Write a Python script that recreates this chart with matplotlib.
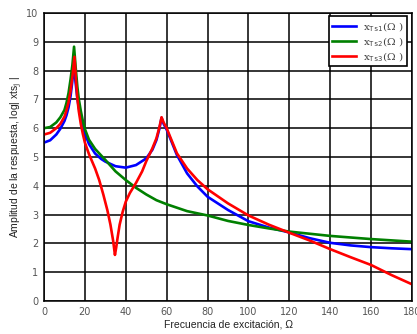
import matplotlib
matplotlib.use("Agg")
import matplotlib.pyplot as plt

# Series 1 (blue)
x1 = [0, 3, 6, 8, 10, 11, 12, 13, 13.8, 14.6, 15.4, 16.2, 17, 18, 19, 20, 22, 25, 28, 30, 35, 40, 45, 50, 53, 55, 56.5, 57.5, 58.5, 60, 62, 65, 70, 75, 80, 90, 100, 110, 120, 130, 140, 150, 160, 170, 180]
y1 = [5.50, 5.58, 5.78, 5.98, 6.25, 6.45, 6.72, 7.12, 7.6, 8.25, 7.62, 7.1, 6.72, 6.38, 6.05, 5.82, 5.45, 5.12, 4.93, 4.84, 4.68, 4.63, 4.72, 4.95, 5.25, 5.59, 6.0, 6.36, 6.15, 5.95, 5.6, 5.07, 4.43, 3.98, 3.62, 3.16, 2.77, 2.55, 2.38, 2.18, 2.02, 1.93, 1.87, 1.83, 1.80]

# Series 2 (green)
x2 = [0, 3, 6, 8, 10, 11, 12, 13, 13.9, 14.7, 15.5, 16.3, 17, 18, 19, 20, 22, 25, 28, 30, 35, 40, 45, 50, 55, 60, 70, 80, 90, 100, 110, 120, 140, 160, 180]
y2 = [6.0, 6.04, 6.2, 6.38, 6.63, 6.88, 7.22, 7.7, 8.2, 8.83, 8.1, 7.45, 7.02, 6.6, 6.25, 5.97, 5.6, 5.28, 5.05, 4.9, 4.5, 4.2, 3.93, 3.7, 3.5, 3.36, 3.12, 2.97, 2.78, 2.64, 2.52, 2.41, 2.26, 2.15, 2.06]

# Series 3 (red)
x3 = [0, 3, 6, 8, 10, 11, 12, 13, 14, 14.9, 15.6, 16.3, 17, 18, 19, 20, 22, 25, 27, 29, 31, 32.5, 33.8, 34.7, 35.3, 36, 37, 38.5, 40, 42, 45, 48, 50, 53, 55, 56.5, 57.5, 58.5, 60, 62, 65, 70, 75, 80, 90, 100, 110, 120, 130, 140, 150, 160, 170, 180]
y3 = [5.78, 5.84, 6.0, 6.15, 6.4, 6.62, 6.9, 7.3, 7.85, 8.48, 7.7, 7.05, 6.6, 6.15, 5.8, 5.5, 5.1, 4.6, 4.2, 3.7, 3.15, 2.65, 2.1, 1.6, 1.85, 2.2, 2.65, 3.1, 3.45, 3.75, 4.1, 4.5, 4.85, 5.3, 5.65, 6.05, 6.38, 6.2, 6.0, 5.65, 5.13, 4.6, 4.2, 3.88, 3.39, 2.97, 2.65, 2.37, 2.1, 1.8, 1.52, 1.25, 0.9, 0.58]

labels = [r"x$_{\mathtt{Ts1}}$(Ω )", r"x$_{\mathtt{Ts2}}$(Ω )", r"x$_{\mathtt{Ts3}}$(Ω )"]
colors = ["#0000ff", "#008000", "#ff0000"]
xticks = list(range(0, 181, 20))
yticks = list(range(0, 11))

plt.rcParams['mathtext.fontset'] = 'dejavuserif'

fig = plt.figure(figsize=(4.17, 3.34), dpi=100)
ax = fig.add_axes([44/417, 33/334, 368/417, 288/334])

for xs, ys, c, lab in zip([x1, x2, x3], [y1, y2, y3], colors, labels):
    ax.plot(xs, ys, color=c, lw=1.9, label=lab, solid_joinstyle='round')

ax.set_xlim(0, 180)
ax.set_ylim(0, 10)
ax.set_xticks(xticks)
ax.set_yticks(yticks)
ax.grid(True, color='black', lw=1.1)
ax.tick_params(length=0, labelsize=7, labelcolor='#555555', pad=4)
for s in ax.spines.values():
    s.set_color('black')
    s.set_linewidth(1.1)

ax.set_xlabel("Frecuencia de excitación, Ω", fontsize=7.5, color='#222222',
              family='Liberation Sans', labelpad=2)
ax.set_ylabel("Amplitud de la respuesta, log| xts$_{\\mathrm{j}}$ |", fontsize=7.5,
              color='#222222', family='Liberation Sans', labelpad=1)

leg = ax.legend(loc='upper right', bbox_to_anchor=(0.986, 0.988),
                frameon=True, fancybox=False, edgecolor='black', framealpha=1,
                handlelength=2.3, handletextpad=0.6, borderpad=0.35,
                labelspacing=0.18, borderaxespad=0.0,
                prop={'family': 'DejaVu Serif', 'size': 7.5})
leg.get_frame().set_linewidth(1.2)
for t in leg.get_texts():
    t.set_color('#444444')

fig.savefig("out.png", dpi=100)
